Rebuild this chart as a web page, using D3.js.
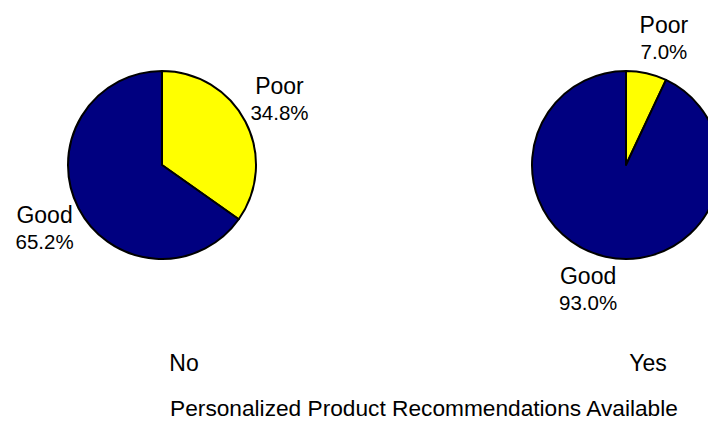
<!DOCTYPE html>
<html>
<head>
<meta charset="utf-8">
<script src="https://cdn.jsdelivr.net/npm/d3@7"></script>
<style>
  html, body { margin: 0; padding: 0; background: #fff; }
  svg { display: block; }
  text { font-family: "Liberation Sans", Arial, sans-serif; fill: #000; }
</style>
</head>
<body>
<svg id="chart" width="708" height="422"></svg>
<script>
// Groups along the horizontal axis
const categories = ["No", "Yes"];
// Rating slices inside each pie, in drawing order (clockwise from 12 o'clock)
const ratings = ["Poor", "Good"];
// Share of each rating, per group (percent)
const poorValues = [34.8, 7.0];
const goodValues = [65.2, 93.0];
const axisTitle = "Personalized Product Recommendations Available";

const colors = { Poor: "#FFFF00", Good: "#000080" };

const svg = d3.select("#chart");

const x = d3.scalePoint().domain(categories).range([162, 626]);
const cy = 165;
const radius = 94;

const pie = d3.pie().sort(null).value(d => d.value);
const arc = d3.arc().innerRadius(0).outerRadius(radius);

// Label block placed outside the slice, along its middle angle
function labelPos(d) {
  const a = (d.startAngle + d.endAngle) / 2;
  const s = Math.sin(a), c = Math.cos(a);
  const lx = s * radius * 1.263 + Math.sign(s) * 12;
  const ly = -c * radius * 1.255 - Math.sign(c) * 10 + 6.5;
  return [lx, ly];
}

categories.forEach((cat, i) => {
  const data = ratings.map(r => ({
    rating: r,
    value: r === "Poor" ? poorValues[i] : goodValues[i]
  }));
  const g = svg.append("g").attr("transform", `translate(${x(cat)},${cy})`);
  const arcs = pie(data);

  g.selectAll("path")
    .data(arcs)
    .join("path")
    .attr("d", arc)
    .attr("fill", d => colors[d.data.rating])
    .attr("stroke", "#000")
    .attr("stroke-width", 2)
    .attr("stroke-linejoin", "round");

  const lab = g.selectAll("g.lab")
    .data(arcs)
    .join("g")
    .attr("class", "lab")
    .attr("transform", d => `translate(${labelPos(d)})`);

  lab.append("text")
    .attr("text-anchor", "middle")
    .attr("y", -13)
    .style("font-size", "23px")
    .text(d => d.data.rating);

  lab.append("text")
    .attr("text-anchor", "middle")
    .attr("y", 13)
    .style("font-size", "20.5px")
    .text(d => d3.format(".1f")(d.data.value) + "%");
});

// Category labels
svg.selectAll("text.cat")
  .data(categories)
  .join("text")
  .attr("class", "cat")
  .attr("x", d => x(d) + 22)
  .attr("y", 371)
  .attr("text-anchor", "middle")
  .style("font-size", "23px")
  .text(d => d);

// Axis title
svg.append("text")
  .attr("x", 424)
  .attr("y", 416)
  .attr("text-anchor", "middle")
  .style("font-size", "22.7px")
  .text(axisTitle);
</script>
</body>
</html>
